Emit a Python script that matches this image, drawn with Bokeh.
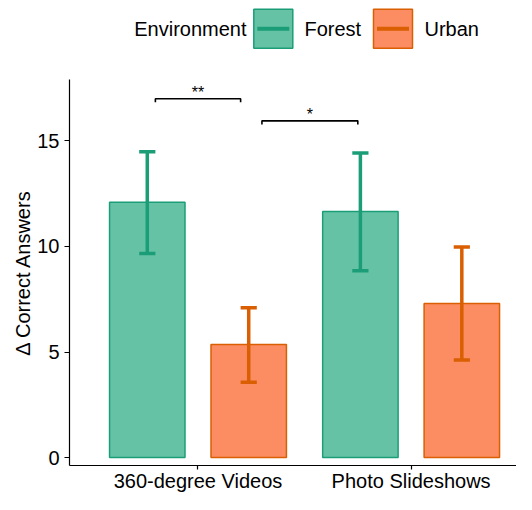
from bokeh.plotting import figure
from bokeh.layouts import column
from bokeh.models import Range1d, FixedTicker, ColumnDataSource
from bokeh.core.properties import value
from bokeh.embed import file_html
from bokeh.resources import INLINE

# ---------------- data ----------------
categories = ["360-degree Videos", "Photo Slideshows"]
environments = ["Forest", "Urban"]
forest_mean = [12.10, 11.66]
forest_low = [9.67, 8.85]
forest_high = [14.49, 14.43]
urban_mean = [5.35, 7.30]
urban_low = [3.57, 4.62]
urban_high = [7.10, 9.97]
y_ticks = [0, 5, 10, 15]
sig_labels = ["**", "*"]
sig_start = [0.80, 1.30]
sig_end = [1.20, 1.75]
sig_height = [17.0, 15.95]

# ---------------- style ----------------
FONT = "Liberation Sans"
fill_colors = {"Forest": "#66C2A5", "Urban": "#FC8D62"}
line_colors = {"Forest": "#1B9E77", "Urban": "#D95F02"}
dodge = 0.238
bar_w = 0.354
cap_half = 0.038
tip = 0.17
LEFT = 69
WIDTH = 516

series = {
    "Forest": (forest_mean, forest_low, forest_high),
    "Urban": (urban_mean, urban_low, urban_high),
}

p = figure(width=WIDTH, height=423,
           x_range=Range1d(0.397, 2.4946), y_range=Range1d(-0.377, 17.91),
           output_backend="svg", toolbar_location=None,
           min_border_left=LEFT, min_border_right=0,
           min_border_top=8, min_border_bottom=27)

for k, env in enumerate(environments):
    mean, lo, hi = series[env]
    xs = [i + 1 + (k - 0.5) * 2 * dodge for i in range(len(categories))]
    src = ColumnDataSource(dict(
        x=xs, top=mean, lo=lo, hi=hi,
        cl=[x - cap_half for x in xs], cr=[x + cap_half for x in xs],
    ))
    p.vbar(x="x", top="top", bottom=0, width=bar_w, source=src,
           fill_color=fill_colors[env], line_color=line_colors[env], line_width=1.5)
    p.segment(x0="x", y0="lo", x1="x", y1="hi", source=src,
              line_color=line_colors[env], line_width=3.5)
    p.segment(x0="cl", y0="hi", x1="cr", y1="hi", source=src,
              line_color=line_colors[env], line_width=3.5)
    p.segment(x0="cl", y0="lo", x1="cr", y1="lo", source=src,
              line_color=line_colors[env], line_width=3.5)

# significance brackets
bxs = [[s, s, e, e] for s, e in zip(sig_start, sig_end)]
bys = [[h - tip, h, h, h - tip] for h in sig_height]
p.multi_line(xs=bxs, ys=bys, line_color="black", line_width=1.6)
p.text(x=[(s + e) / 2 for s, e in zip(sig_start, sig_end)],
       y=[h + 0.3 for h in sig_height], text=sig_labels,
       text_align="center", text_baseline="alphabetic",
       text_font=value(FONT), text_font_size="16px", text_color="black")

p.xgrid.visible = False
p.ygrid.visible = False
p.outline_line_color = None
for ax in (p.xaxis[0], p.yaxis[0]):
    ax.axis_line_color = "black"
    ax.axis_line_width = 1.2
    ax.major_tick_line_color = "black"
    ax.major_tick_line_width = 1.2
    ax.minor_tick_line_color = None
    ax.major_tick_in = 0
    ax.major_label_text_font = FONT
    ax.major_label_text_font_size = "20px"
    ax.major_label_text_color = "black"

p.xaxis.ticker = FixedTicker(ticks=[i + 1 for i in range(len(categories))])
p.xaxis.major_label_overrides = {i + 1: c for i, c in enumerate(categories)}
p.xaxis.major_tick_out = 4
p.xaxis.major_label_standoff = 0

p.yaxis.ticker = FixedTicker(ticks=y_ticks)
p.yaxis.major_tick_out = 5
p.yaxis.major_label_standoff = 5
p.yaxis.axis_label = "Δ Correct Answers"
p.yaxis.axis_label_text_font = FONT
p.yaxis.axis_label_text_font_size = "20px"
p.yaxis.axis_label_text_font_style = "normal"
p.yaxis.axis_label_text_color = "black"
p.yaxis.axis_label_standoff = 0

# ---------------- legend (top strip) ----------------
# frame aligned with the main plot frame; x data units = screen pixels
lg = figure(width=WIDTH, height=71, x_range=Range1d(LEFT, WIDTH), y_range=Range1d(0, 71),
            x_axis_type=None, y_axis_type=None, output_backend="svg",
            toolbar_location=None, min_border_left=LEFT, min_border_right=0,
            min_border_top=0, min_border_bottom=0)
lg.outline_line_color = None
key_left = [253.3, 373.0]
key_size = 39
label_x = [304, 424]
mid_y = 42.75
lg.quad(left=key_left, right=[x + key_size for x in key_left],
        bottom=mid_y - key_size / 2, top=mid_y + key_size / 2,
        fill_color=[fill_colors[e] for e in environments],
        line_color=[line_colors[e] for e in environments], line_width=1.5)
lg.segment(x0=[x + 3.5 for x in key_left], x1=[x + key_size - 3.5 for x in key_left],
           y0=mid_y, y1=mid_y, line_width=4,
           line_color=[line_colors[e] for e in environments])
lg.text(x=label_x, y=mid_y, text=environments, text_align="left", text_baseline="middle",
        text_font=value(FONT), text_font_size="20px", text_color="black")
lg.text(x=[246], y=[mid_y], text=["Environment"], text_align="right", text_baseline="middle",
        text_font=value(FONT), text_font_size="20px", text_color="black")

layout = column(lg, p)
open("out.html", "w").write(file_html(layout, INLINE))
